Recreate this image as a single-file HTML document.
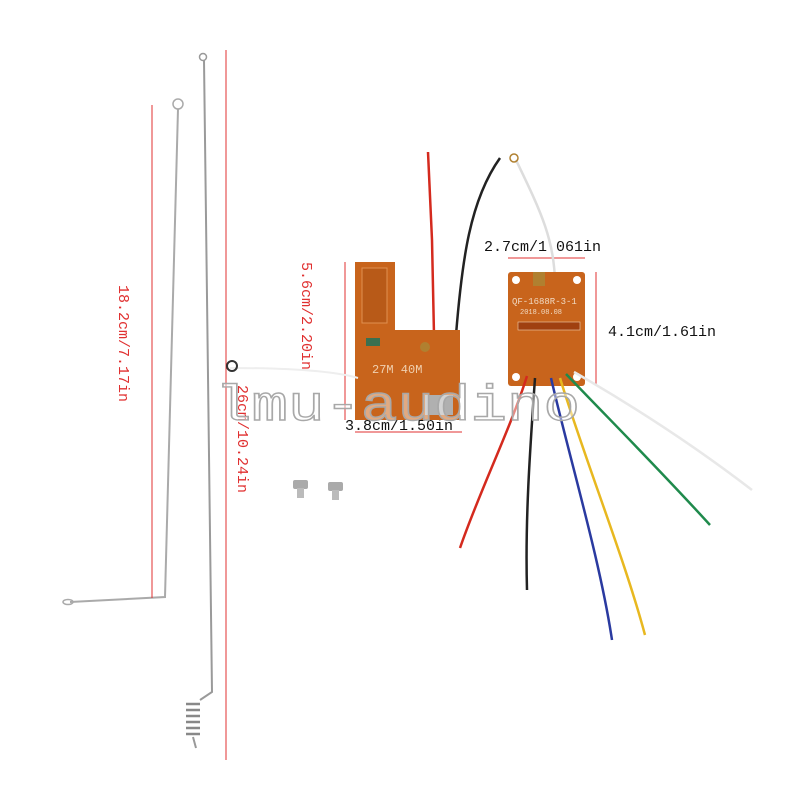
<!DOCTYPE html>
<html><head><meta charset="utf-8"><style>
html,body{margin:0;padding:0;background:#fff}
svg{display:block}
text{font-family:"Liberation Mono",monospace}
</style></head><body>
<svg width="800" height="800" viewBox="0 0 800 800" xmlns="http://www.w3.org/2000/svg">
<rect width="800" height="800" fill="#fff"/>
<circle cx="203" cy="57" r="3.5" fill="none" stroke="#999" stroke-width="1.5"/>
<path d="M204 60 L212 692 L200 700" fill="none" stroke="#9a9a9a" stroke-width="2"/>
<g stroke="#888" stroke-width="2.5" fill="none">
<path d="M186 704 h14 M186 710 h14 M186 716 h14 M186 722 h14 M186 728 h14 M186 734 h14"/>
</g>
<path d="M193 737 L196 748" stroke="#999" stroke-width="2" fill="none"/>
<circle cx="178" cy="104" r="5" fill="none" stroke="#aaa" stroke-width="1.5"/>
<path d="M178 109 L165 597 L70 602" fill="none" stroke="#aaa" stroke-width="2"/>
<ellipse cx="68" cy="602" rx="5" ry="2.5" fill="none" stroke="#aaa" stroke-width="1.5"/>
<g stroke="#e03030" stroke-width="1">
<line x1="226" y1="50" x2="226" y2="760"/>
<line x1="152" y1="105" x2="152" y2="598"/>
<line x1="345" y1="262" x2="345" y2="420"/>
<line x1="355" y1="432" x2="462" y2="432"/>
<line x1="508" y1="258" x2="585" y2="258"/>
<line x1="596" y1="272" x2="596" y2="386"/>
</g>
<g fill="#e03030" font-size="15">
<text transform="translate(119,285) rotate(90)">18.2cm/7.17in</text>
<text transform="translate(238,385) rotate(90)">26cm/10.24in</text>
<text transform="translate(302,262) rotate(90)">5.6cm/2.20in</text>
</g>
<g fill="#111" font-size="15">
<text x="345" y="430">3.8cm/1.50in</text>
<text x="484" y="251">2.7cm/1.061in</text>
<text x="608" y="336">4.1cm/1.61in</text>
</g>
<path d="M428 152 L432 240 L434 335" stroke="#d42a1e" stroke-width="2.5" fill="none"/>
<path d="M500 158 C470 200 462 260 456 335" stroke="#222" stroke-width="2.5" fill="none"/>
<path d="M355 262 H395 V330 H460 V420 H355 Z" fill="#c8641c"/>
<path d="M362 268 h25 v55 h-25z" fill="#b85a18" stroke="#e09050" stroke-width="1"/>
<circle cx="425" cy="347" r="5" fill="#b08030"/>
<rect x="366" y="338" width="14" height="8" fill="#3a7050"/>
<text x="372" y="373" font-size="12" fill="#f0d0b0">27M 40M</text>
<rect x="425" y="395" width="28" height="20" fill="#b0b0b0"/>
<path d="M230 368 C280 368 330 370 358 378" stroke="#eee" stroke-width="2" fill="none"/>
<circle cx="232" cy="366" r="5" fill="none" stroke="#333" stroke-width="2"/>
<path d="M516 160 C540 210 555 240 555 285" stroke="#ddd" stroke-width="2.5" fill="none"/>
<circle cx="514" cy="158" r="4" fill="none" stroke="#b08030" stroke-width="1.5"/>
<rect x="508" y="272" width="77" height="114" rx="3" fill="#c8641c"/>
<circle cx="516" cy="280" r="4" fill="#fff"/><circle cx="577" cy="280" r="4" fill="#fff"/>
<circle cx="516" cy="377" r="4" fill="#fff"/><circle cx="577" cy="377" r="4" fill="#fff"/>
<rect x="533" y="272" width="12" height="14" fill="#b08030"/>
<text x="512" y="304" font-size="9" fill="#f0d8c0">QF-1688R-3-1</text>
<text x="520" y="314" font-size="7" fill="#f0d8c0">2018.08.08</text>
<rect x="518" y="322" width="62" height="8" fill="#a04010" stroke="#f0d0b0" stroke-width="0.6"/>
<g fill="none" stroke-width="2.5">
<path d="M527 376 C510 430 480 490 460 548" stroke="#d42a1e"/>
<path d="M535 378 C530 450 525 520 527 590" stroke="#222"/>
<path d="M551 378 C570 460 600 560 612 640" stroke="#2a3aa0"/>
<path d="M560 378 C585 460 625 560 645 635" stroke="#e8b820"/>
<path d="M566 374 C610 420 660 470 710 525" stroke="#1f8a4c"/>
<path d="M574 372 C640 410 700 450 752 490" stroke="#e8e8e8"/>
</g>
<rect x="293" y="480" width="15" height="9" rx="2" fill="#aaa"/><rect x="297" y="488" width="7" height="10" fill="#bbb"/>
<rect x="328" y="482" width="15" height="9" rx="2" fill="#aaa"/><rect x="332" y="490" width="7" height="10" fill="#bbb"/>
<text x="215" y="420" font-family="Liberation Sans,sans-serif" font-size="50" textLength="365" lengthAdjust="spacingAndGlyphs" fill="rgba(255,255,255,0.45)" stroke="#a8a8a8" stroke-width="1.4">lmu-audino</text>
</svg>
</body></html>
